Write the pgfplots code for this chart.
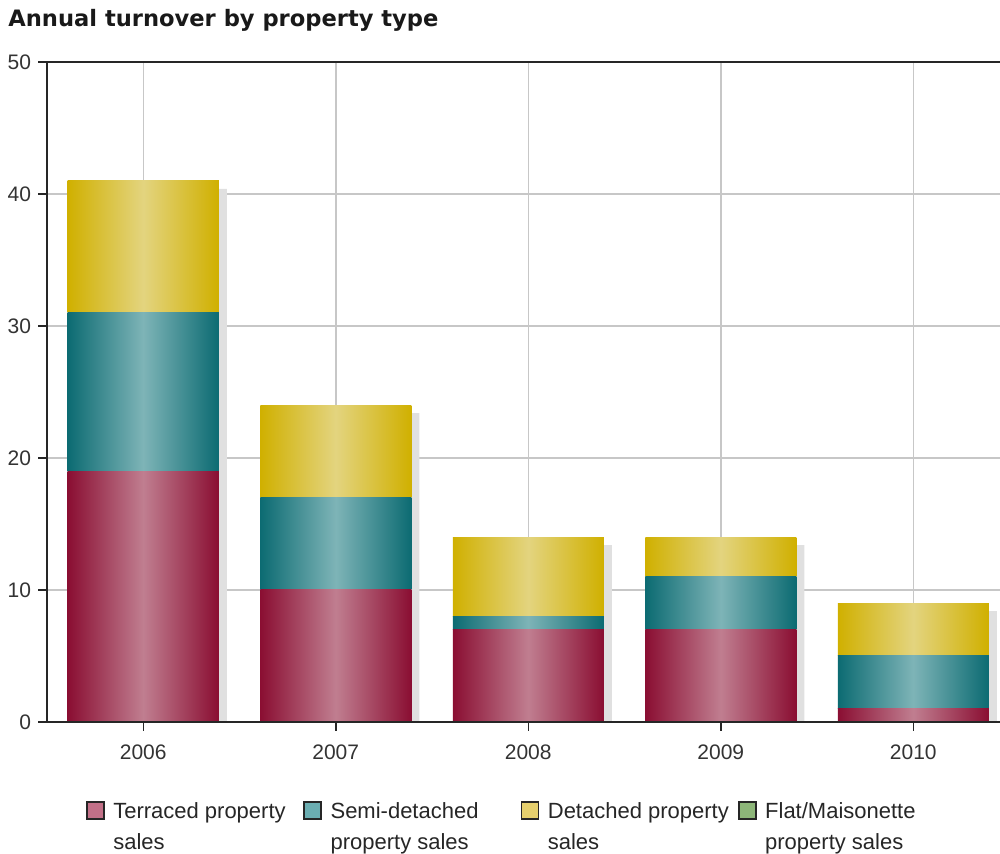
\documentclass[border=0pt]{standalone}
\usepackage{fontspec}
\setmainfont{Liberation Sans}
\newfontfamily\titlefont{DejaVu Sans}
\usepackage{pgfplots}
\usepackage{pgfplotstable}
\pgfplotsset{compat=1.18}

\definecolor{terdark}{HTML}{8A0E32}
\definecolor{terlight}{HTML}{C07E90}
\definecolor{semidark}{HTML}{0C6B72}
\definecolor{semilight}{HTML}{7EB4B7}
\definecolor{detdark}{HTML}{D0B000}
\definecolor{detlight}{HTML}{E3D47F}
\definecolor{terleg}{HTML}{C27088}
\definecolor{semileg}{HTML}{6BAEB2}
\definecolor{detleg}{HTML}{E6D06E}
\definecolor{flatleg}{HTML}{8DB679}

% x: 0=2006 ... 4=2010
\pgfplotstableread{
x ter semi det flat total
0 19 12 10 0 41
1 10  7  7 0 24
2  7  1  6 0 14
3  7  4  3 0 14
4  1  4  4 0  9
}\turnover

% 1px of the reference = 0.5pt here
\pgfplotsset{
  chartbox/.style={
    at={(0,0)}, anchor=south west, scale only axis,
    width=481.25pt, height=330pt,
    xmin=-0.5, xmax=4.5, ymin=0, ymax=50,
  },
  legsquare/.style={
    legend image code/.code={
      \draw[fill=#1, draw=black!85, line width=0.9pt] (0pt,-3.5pt) rectangle (8.5pt,5pt);
      \path (13pt,0pt);
    }
  },
}

\begin{document}
\begin{tikzpicture}
% frame, grid, ticks, legend
\begin{axis}[chartbox,
  axis line style={black!85, line width=1pt},
  xtick={0,...,4}, xticklabels={2006,2007,2008,2009,2010},
  ytick={0,10,...,50},
  xtick pos=left, ytick pos=left, tick align=outside,
  major tick length=4.5pt,
  tick style={black!85, line width=0.75pt},
  grid=major, grid style={black!22, line width=0.75pt},
  ticklabel style={font=\fontsize{10.5pt}{12pt}\selectfont, text=black!80},
  xticklabel style={yshift=-3.5pt},
  /pgf/number format/assume math mode=true,
  legend columns=4,
  legend cell align=left,
  legend style={at={(0.0405,-0.1196)}, anchor=north west, draw=none, fill=none,
    inner sep=0pt, outer sep=0pt, column sep=0pt, row sep=0pt,
    nodes={inner sep=0pt, outer sep=0pt},
    font=\fontsize{11pt}{15.5pt}\selectfont, text=black!85},
]
\addlegendimage{legsquare=terleg}
\addlegendentry{\parbox[t]{95pt}{Terraced property\\sales}}
\addlegendimage{legsquare=semileg}
\addlegendentry{\parbox[t]{95pt}{Semi-detached\\property sales}}
\addlegendimage{legsquare=detleg}
\addlegendentry{\parbox[t]{95pt}{Detached property\\sales}}
\addlegendimage{legsquare=flatleg}
\addlegendentry{\parbox[t]{95pt}{Flat/Maisonette\\property sales}}
\end{axis}

% drop shadows of the stacks
\begin{axis}[chartbox, at={(4pt,0)}, ymin=0.606, ymax=50.606,
  hide axis, ybar, bar width=75.5pt]
\addplot[fill=black!12, draw=none] table[x=x, y=total] {\turnover};
\end{axis}

% stacked bars, one axis per year so that each bar gets its own shading
\pgfplotsinvokeforeach{0,...,4}{
\begin{axis}[chartbox, hide axis, ybar stacked, bar width=75.5pt,
  restrict x to domain=#1:#1]
\addplot[draw=none, left color=terdark, right color=terdark, middle color=terlight]
  table[x=x, y=ter] {\turnover};
\addplot[draw=none, left color=semidark, right color=semidark, middle color=semilight]
  table[x=x, y=semi] {\turnover};
\addplot[draw=none, left color=detdark, right color=detdark, middle color=detlight]
  table[x=x, y=det] {\turnover};
\addplot[draw=none, fill=none]
  table[x=x, y=flat] {\turnover};
\end{axis}
}

% axis lines once more, on top of the bars
\begin{axis}[chartbox,
  axis line style={black!85, line width=1pt},
  xtick=\empty, ytick=\empty]
\end{axis}

\node[anchor=base west, inner sep=0pt, font=\titlefont\bfseries\fontsize{11.3pt}{13pt}\selectfont, text=black!90]
  at (-19.5pt,347.5pt) {Annual turnover by property type};

\pgfresetboundingbox
\path[use as bounding box] (-23.5pt,-66pt) rectangle (476.5pt,361pt);
\end{tikzpicture}
\end{document}
